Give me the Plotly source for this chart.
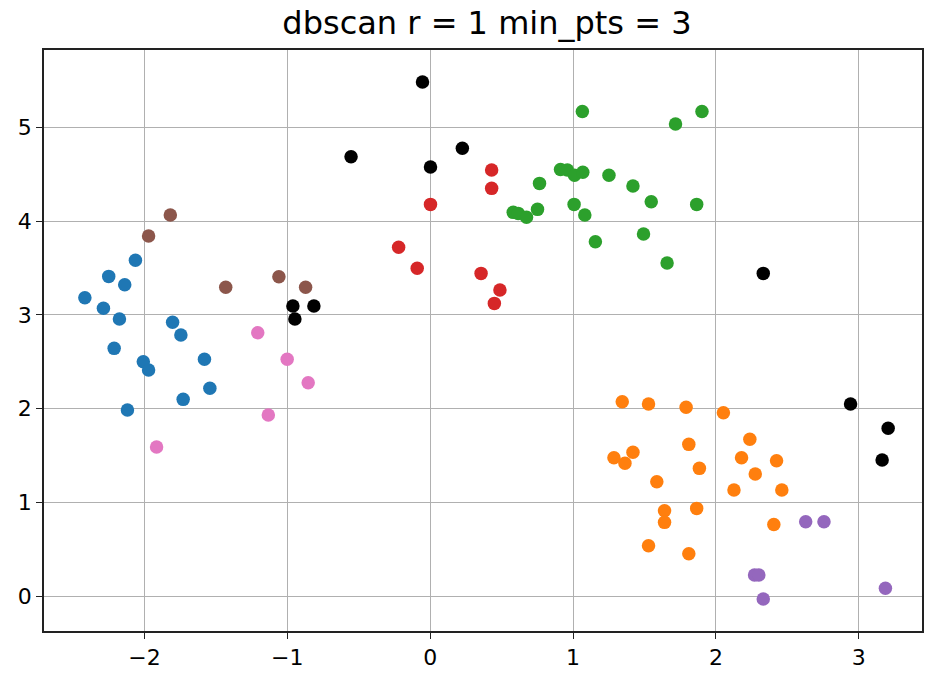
import plotly.graph_objects as go

# Cluster point coordinates
blue_x = [-2.063, -2.250, -2.138, -2.417, -2.287, -2.175, -2.212, -2.008, -1.971, -1.803, -1.745, -1.580, -1.542, -1.729, -2.119]
blue_y = [3.581, 3.410, 3.321, 3.182, 3.069, 2.955, 2.642, 2.500, 2.411, 2.920, 2.784, 2.525, 2.216, 2.098, 1.984]

orange_x = [1.344, 1.528, 1.791, 2.052, 2.237, 1.810, 1.286, 1.419, 1.363, 1.884, 2.179, 2.424, 2.275, 1.586, 2.126, 2.461, 1.640, 1.640, 1.865, 2.405, 1.528, 1.810]
orange_y = [2.073, 2.048, 2.013, 1.955, 1.672, 1.618, 1.475, 1.533, 1.416, 1.362, 1.475, 1.443, 1.301, 1.220, 1.131, 1.131, 0.910, 0.786, 0.935, 0.764, 0.537, 0.451]

green_x = [1.065, 1.717, 1.902, 0.912, 0.960, 1.010, 1.068, 1.251, 1.419, 1.547, 1.865, 0.765, 0.581, 0.616, 0.674, 0.751, 1.007, 1.082, 1.156, 1.493, 1.658]
green_y = [5.170, 5.035, 5.170, 4.551, 4.545, 4.488, 4.520, 4.488, 4.374, 4.207, 4.178, 4.402, 4.093, 4.082, 4.040, 4.125, 4.178, 4.064, 3.780, 3.862, 3.552]

red_x = [0.430, 0.430, 0.002, -0.221, -0.091, 0.356, 0.488, 0.449]
red_y = [4.545, 4.349, 4.178, 3.720, 3.496, 3.442, 3.264, 3.122]

purple_x = [2.628, 2.756, 2.270, 2.300, 2.331, 3.186]
purple_y = [0.793, 0.793, 0.224, 0.224, -0.032, 0.082]

brown_x = [-1.819, -1.971, -1.431, -1.059, -0.872]
brown_y = [4.064, 3.840, 3.293, 3.407, 3.293]

pink_x = [-1.207, -1.001, -0.854, -1.133, -1.915]
pink_y = [2.809, 2.525, 2.276, 1.931, 1.590]

noise_x = [-0.961, -0.814, -0.947, -0.054, -0.554, 0.002, 0.225, 2.942, 3.205, 3.163, 2.331]
noise_y = [3.094, 3.094, 2.955, 5.483, 4.687, 4.577, 4.776, 2.048, 1.789, 1.451, 3.442]

x_ticks = [-2, -1, 0, 1, 2, 3]
x_tick_text = ["\u22122", "\u22121", "0", "1", "2", "3"]
y_ticks = [0, 1, 2, 3, 4, 5]
y_tick_text = ["0", "1", "2", "3", "4", "5"]

series = [
    (blue_x, blue_y, "#1f77b4"),
    (orange_x, orange_y, "#ff7f0e"),
    (green_x, green_y, "#2ca02c"),
    (red_x, red_y, "#d62728"),
    (purple_x, purple_y, "#9467bd"),
    (brown_x, brown_y, "#8c564b"),
    (pink_x, pink_y, "#e377c2"),
    (noise_x, noise_y, "#000000"),
]

fig = go.Figure()
for xs, ys, c in series:
    fig.add_trace(go.Scatter(x=xs, y=ys, mode="markers",
                             marker=dict(color=c, size=13.5, line=dict(width=0)),
                             showlegend=False))

axis_common = dict(
    showgrid=True, gridcolor="#b0b0b0", gridwidth=1.2,
    zeroline=False, showline=True, linecolor="#222222", linewidth=1.5,
    mirror=True, ticks="outside", ticklen=6, tickwidth=1.3, tickcolor="#222222",
    tickfont=dict(family="DejaVu Sans", size=22, color="#000000"),
)

fig.update_layout(
    width=926, height=676,
    margin=dict(l=44, r=2, t=50, b=45),
    paper_bgcolor="white", plot_bgcolor="white",
    title=dict(text="dbscan r = 1 min_pts = 3", x=0.5045, xanchor="center", xref="paper",
               y=1 - 23 / 676, yanchor="middle",
               font=dict(family="DejaVu Sans", size=32, color="#000000")),
    xaxis=dict(range=[-2.703, 3.442], tickvals=x_ticks, ticktext=x_tick_text, **axis_common),
    yaxis=dict(range=[-0.373, 5.825], tickvals=y_ticks, ticktext=y_tick_text, **axis_common),
)

fig.write_html("out.html", config={"displayModeBar": False},
               post_script="document.body.style.margin='0';")
